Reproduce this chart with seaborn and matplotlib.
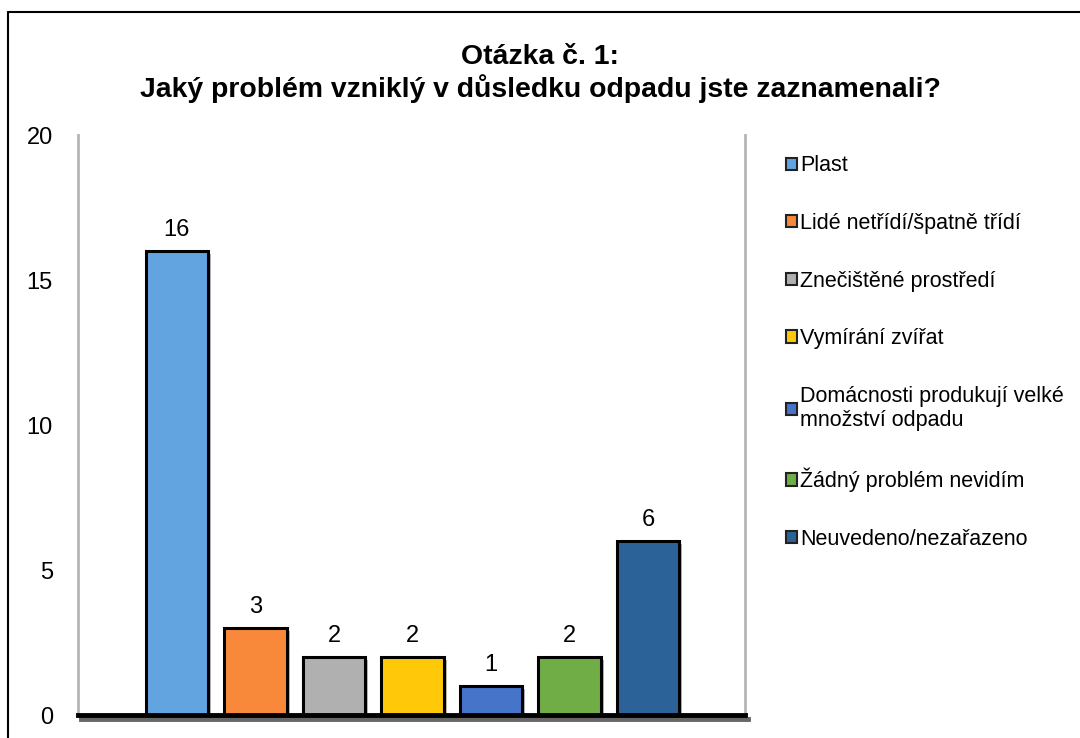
import matplotlib
matplotlib.use("Agg")
import matplotlib.pyplot as plt
import matplotlib.patheffects as pe
from matplotlib.lines import Line2D
import seaborn as sns
import pandas as pd

# === DATA ===
categories = [
    "Plast",
    "Lidé netřídí/špatně třídí",
    "Znečištěné prostředí",
    "Vymírání zvířat",
    "Domácnosti produkují velké\nmnožství odpadu",
    "Žádný problém nevidím",
    "Neuvedeno/nezařazeno",
]
counts = [16, 3, 2, 2, 1, 2, 6]
colors = ["#62A4E0", "#F8883A", "#B0B0B0", "#FFC90A", "#4574C8", "#70AD47", "#2B6298"]
title = "Otázka č. 1:\nJaký problém vzniklý v důsledku odpadu jste zaznamenali?"
yticks = [0, 5, 10, 15, 20]

df = pd.DataFrame({"kategorie": categories, "pocet": counts})

sns.set_style("white")
plt.rcParams["font.family"] = ["Liberation Sans", "DejaVu Sans"]
plt.rcParams["text.color"] = "black"
plt.rcParams["ytick.color"] = "black"

fig = plt.figure(figsize=(10.8, 7.38), dpi=100)
ax = fig.add_axes([0.0722, 0.031, 0.618, 0.786])

sns.barplot(data=df, x="kategorie", y="pocet", hue="kategorie", palette=colors,
            order=categories, hue_order=categories, width=0.8, dodge=False,
            saturation=1, edgecolor="black", linewidth=2.2, legend=False, ax=ax)

shadow = [pe.SimplePatchShadow(offset=(2, -2), alpha=0.35), pe.Normal()]
for bar in ax.patches:
    bar.set_path_effects(shadow)

for cont in ax.containers:
    ax.bar_label(cont, padding=7, fontsize=17, color="black")

ax.set_xlim(-1.26, 7.24)
ax.set_ylim(0, 20)
ax.set_yticks(yticks)
ax.set_xticks([])
ax.set_xlabel("")
ax.set_ylabel("")
ax.tick_params(axis="y", length=0, pad=18, labelsize=17, labelcolor="black")

ax.spines["top"].set_visible(False)
for side in ["left", "right"]:
    ax.spines[side].set_color("#B5B5B5")
    ax.spines[side].set_linewidth(2)
ax.spines["bottom"].set_color("black")
ax.spines["bottom"].set_linewidth(3.5)
ax.spines["bottom"].set_path_effects([pe.SimpleLineShadow(offset=(2, -3), alpha=0.6, shadow_color="black"), pe.Normal()])

# legend
handles = [plt.Rectangle((0, 0), 1, 1, facecolor=c, edgecolor="#222222", linewidth=1.5)
           for c in colors]
ax.legend(handles, categories, loc="upper left", bbox_to_anchor=(1.061, 0.965),
          frameon=False, fontsize=15.5, handlelength=0.5, handleheight=0.5,
          handletextpad=0.15, labelspacing=1.7, borderaxespad=0, borderpad=0)

fig.suptitle(title, x=0.5, y=0.94, fontsize=20.4, fontweight="bold",
             linespacing=1.15)

# figure frame (top and left edges visible)
fig.add_artist(Line2D([8 / 1080, 1.0], [1 - 12 / 738, 1 - 12 / 738],
                      transform=fig.transFigure, color="black", linewidth=1.5))
fig.add_artist(Line2D([8 / 1080, 8 / 1080], [0, 1 - 12 / 738],
                      transform=fig.transFigure, color="black", linewidth=1.5))

fig.savefig("out.png", dpi=100)
